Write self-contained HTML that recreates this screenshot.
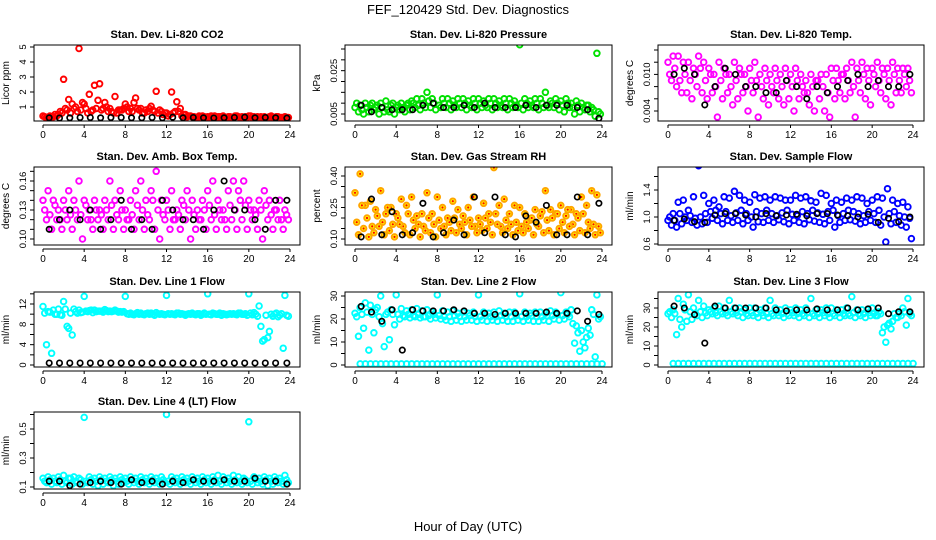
<!DOCTYPE html>
<html><head><meta charset="utf-8">
<style>
html,body{margin:0;padding:0;background:#fff;}
svg{display:block;font-family:"Liberation Sans",Arial,sans-serif;}
</style></head>
<body>
<svg id="chart" width="936" height="540" viewBox="0 0 936 540" xmlns="http://www.w3.org/2000/svg">
<text x="468" y="14" text-anchor="middle" font-size="13">FEF_120429  Std. Dev. Diagnostics</text>
<text x="468" y="531" text-anchor="middle" font-size="13">Hour of Day (UTC)</text>
</svg>
<script>
const hours = [0,0.5,1,1.5,2,2.5,3,3.5,4,4.5,5,5.5,6,6.5,7,7.5,8,8.5,9,9.5,10,10.5,11,11.5,12,12.5,13,13.5,14,14.5,15,15.5,16,16.5,17,17.5,18,18.5,19,19.5,20,20.5,21,21.5,22,22.5,23,23.5];
const blackHours = [0.6,1.6,2.6,3.6,4.6,5.6,6.6,7.6,8.6,9.6,10.6,11.6,12.6,13.6,14.6,15.6,16.6,17.6,18.6,19.6,20.6,21.6,22.6,23.7];
const xTicks = [0,4,8,12,16,20,24];

const co2A = [0.4,0.3,0.35,0.5,2.85,1.5,0.9,4.9,1.2,1.85,2.45,2.55,1.3,0.9,1.7,0.8,1.2,0.9,1.6,0.9,0.8,1.05,2.05,0.7,0.6,2.0,1.35,0.4,0.35,0.35,0.3,0.4,0.35,0.3,0.35,0.4,0.35,0.3,0.35,0.3,0.4,0.35,0.3,0.35,0.35,0.3,0.3,0.35];
const co2B = [0.3,0.35,0.4,0.6,0.8,1.2,0.7,1.3,0.6,0.8,1.45,0.9,0.7,0.6,0.8,0.9,0.7,1.3,0.8,0.6,0.9,0.7,0.8,0.6,0.5,0.7,0.9,0.5,0.4,0.3,0.35,0.3,0.4,0.3,0.35,0.3,0.3,0.4,0.35,0.3,0.3,0.35,0.3,0.3,0.3,0.35,0.3,0.3];
const co2M = [0.35,0.4,0.5,0.7,0.9,0.6,1.0,0.8,0.9,0.7,0.9,0.8,1.0,0.7,0.6,0.8,1.0,0.7,0.9,0.6,0.7,0.8,0.6,0.5,0.4,0.6,0.7,0.5,0.4,0.35,0.4,0.35,0.3,0.4,0.35,0.3,0.35,0.4,0.3,0.35,0.4,0.3,0.35,0.3,0.4,0.35,0.3,0.3];
const co2K = [0.28,0.27,0.28,0.3,0.3,0.28,0.3,0.3,0.28,0.28,0.3,0.28,0.32,0.28,0.3,0.28,0.27,0.28,0.3,0.32,0.28,0.3,0.28,0.26];

const presA = [0.008,0.009,0.010,0.009,0.008,0.010,0.011,0.009,0.008,0.010,0.009,0.011,0.012,0.012,0.015,0.012,0.039,0.012,0.012,0.011,0.012,0.012,0.011,0.012,0.012,0.011,0.012,0.012,0.011,0.012,0.012,0.011,0.037,0.012,0.011,0.012,0.012,0.015,0.011,0.012,0.011,0.012,0.010,0.011,0.010,0.009,0.008,0.033];
const presB = [0.006,0.005,0.006,0.007,0.005,0.006,0.006,0.005,0.007,0.006,0.007,0.008,0.007,0.008,0.008,0.007,0.008,0.008,0.007,0.008,0.008,0.007,0.008,0.007,0.008,0.008,0.007,0.008,0.008,0.007,0.008,0.008,0.007,0.008,0.008,0.007,0.008,0.008,0.008,0.007,0.006,0.008,0.005,0.006,0.007,0.006,0.004,0.005];
const presM = [0.010,0.007,0.008,0.010,0.009,0.008,0.007,0.010,0.009,0.008,0.010,0.010,0.009,0.010,0.011,0.010,0.009,0.010,0.010,0.009,0.010,0.010,0.009,0.010,0.010,0.009,0.010,0.010,0.009,0.010,0.010,0.009,0.010,0.010,0.009,0.010,0.010,0.009,0.010,0.010,0.009,0.010,0.008,0.009,0.008,0.009,0.007,0.006];
const presK = [0.009,0.006,0.008,0.007,0.007,0.007,0.009,0.010,0.008,0.008,0.009,0.008,0.010,0.008,0.008,0.008,0.009,0.008,0.009,0.009,0.009,0.008,0.007,0.003];

const tempA = [0.012,0.013,0.013,0.012,0.012,0.011,0.013,0.012,0.011,0.010,0.012,0.011,0.010,0.012,0.011,0.010,0.011,0.012,0.010,0.011,0.010,0.011,0.010,0.011,0.010,0.011,0.010,0.009,0.010,0.009,0.010,0.010,0.011,0.011,0.010,0.011,0.012,0.011,0.012,0.011,0.011,0.012,0.011,0.011,0.012,0.011,0.011,0.011];
const tempB = [0.009,0.008,0.007,0.007,0.006,0.008,0.007,0.006,0.007,0.003,0.006,0.007,0.005,0.006,0.007,0.004,0.007,0.003,0.006,0.005,0.007,0.006,0.005,0.006,0.004,0.006,0.007,0.005,0.004,0.006,0.004,0.003,0.006,0.007,0.006,0.007,0.003,0.007,0.006,0.005,0.008,0.007,0.006,0.005,0.007,0.007,0.008,0.007];
const tempM = [0.010,0.011,0.009,0.010,0.009,0.010,0.011,0.009,0.010,0.008,0.009,0.010,0.008,0.009,0.010,0.008,0.009,0.009,0.008,0.009,0.008,0.009,0.008,0.009,0.008,0.009,0.008,0.007,0.008,0.009,0.008,0.007,0.009,0.009,0.010,0.009,0.008,0.009,0.010,0.009,0.010,0.009,0.010,0.009,0.010,0.009,0.010,0.009];
const tempK = [0.010,0.011,0.010,0.005,0.008,0.011,0.010,0.008,0.008,0.007,0.007,0.009,0.008,0.006,0.008,0.007,0.008,0.009,0.010,0.008,0.009,0.008,0.008,0.010];

const ambA = [0.14,0.15,0.14,0.13,0.14,0.15,0.14,0.16,0.14,0.13,0.14,0.13,0.14,0.16,0.14,0.15,0.13,0.14,0.15,0.16,0.14,0.15,0.17,0.14,0.14,0.15,0.13,0.14,0.15,0.14,0.13,0.14,0.15,0.16,0.14,0.13,0.15,0.16,0.15,0.16,0.14,0.13,0.14,0.15,0.14,0.13,0.14,0.13];
const ambB = [0.12,0.11,0.12,0.11,0.12,0.11,0.12,0.10,0.12,0.11,0.12,0.11,0.12,0.11,0.12,0.11,0.12,0.11,0.12,0.11,0.12,0.11,0.10,0.12,0.11,0.12,0.11,0.12,0.10,0.11,0.12,0.11,0.12,0.11,0.12,0.11,0.12,0.11,0.12,0.11,0.12,0.11,0.10,0.12,0.11,0.12,0.11,0.12];
const ambM = [0.13,0.125,0.135,0.12,0.13,0.125,0.13,0.125,0.135,0.12,0.13,0.125,0.13,0.135,0.125,0.13,0.12,0.125,0.135,0.13,0.125,0.14,0.13,0.125,0.13,0.12,0.125,0.135,0.13,0.125,0.12,0.13,0.135,0.125,0.13,0.12,0.135,0.13,0.14,0.135,0.13,0.125,0.13,0.135,0.125,0.13,0.12,0.125];
const ambK = [0.11,0.12,0.13,0.12,0.13,0.11,0.12,0.14,0.11,0.12,0.11,0.14,0.13,0.12,0.12,0.11,0.13,0.16,0.13,0.13,0.12,0.11,0.14,0.14];

const rhA = [0.32,0.41,0.26,0.28,0.24,0.33,0.22,0.25,0.22,0.29,0.26,0.30,0.21,0.22,0.32,0.22,0.30,0.25,0.20,0.28,0.24,0.21,0.25,0.30,0.20,0.27,0.22,0.44,0.26,0.29,0.22,0.26,0.25,0.22,0.19,0.24,0.21,0.33,0.24,0.22,0.26,0.21,0.24,0.22,0.30,0.26,0.33,0.31];
const rhB = [0.12,0.15,0.11,0.13,0.16,0.12,0.14,0.11,0.17,0.13,0.12,0.15,0.11,0.14,0.13,0.11,0.15,0.12,0.14,0.13,0.15,0.12,0.16,0.13,0.14,0.15,0.12,0.17,0.13,0.15,0.12,0.14,0.13,0.15,0.12,0.16,0.13,0.14,0.12,0.15,0.13,0.16,0.12,0.14,0.13,0.15,0.12,0.13];
const rhM = [0.18,0.26,0.20,0.16,0.21,0.18,0.25,0.17,0.20,0.16,0.22,0.19,0.17,0.16,0.20,0.17,0.19,0.16,0.18,0.20,0.17,0.18,0.19,0.16,0.17,0.20,0.18,0.22,0.16,0.19,0.17,0.18,0.16,0.18,0.20,0.17,0.23,0.19,0.20,0.22,0.18,0.24,0.17,0.20,0.22,0.18,0.17,0.16];
const rhK = [0.11,0.29,0.12,0.23,0.12,0.13,0.27,0.11,0.13,0.19,0.12,0.30,0.13,0.30,0.12,0.11,0.21,0.18,0.26,0.12,0.12,0.30,0.12,0.27];

const sfA = [0.95,1.05,1.22,1.25,1.1,1.3,1.76,1.32,1.2,1.25,1.15,1.3,1.28,1.38,1.32,1.25,1.22,1.33,1.28,1.3,1.25,1.3,1.28,1.25,1.25,1.32,1.28,1.3,1.24,1.22,1.35,1.32,1.2,1.25,1.22,1.28,1.25,1.3,1.28,1.2,1.25,1.3,1.28,1.42,1.25,1.2,1.22,1.15];
const sfB = [0.88,0.85,0.9,0.95,0.92,0.88,0.9,0.92,0.98,0.95,0.9,0.95,0.92,0.95,0.9,0.95,0.85,0.93,0.92,0.95,0.92,0.96,0.93,0.9,0.95,0.92,0.9,0.96,0.94,0.92,0.9,0.95,0.85,0.92,0.95,0.96,0.94,0.9,0.92,0.95,0.92,0.88,0.63,0.9,0.92,0.88,0.85,0.68];
const sfM = [1.0,0.95,1.05,1.0,1.02,0.98,1.0,1.05,1.08,1.1,1.05,1.08,1.02,1.06,1.1,1.05,1.0,1.08,1.05,1.1,1.05,1.02,1.06,1.1,1.04,1.02,1.08,1.05,1.1,1.06,1.04,1.08,1.1,1.02,1.05,1.1,1.08,1.05,1.02,1.08,1.05,1.1,1.0,1.05,1.08,1.02,1.0,0.98];
const sfK = [0.95,0.97,0.93,0.92,1.03,1.05,1.05,1.03,1.0,1.05,1.02,1.03,1.04,1.02,1.05,1.05,1.03,1.02,1.0,1.04,0.92,0.98,0.93,1.0];

const l1A = [11.5,10.5,10.8,11,12.5,7.2,11,10.8,13.5,10.7,10.8,10.6,10.9,10.6,10.8,10.5,13.5,10.2,10.1,10.2,10.1,10.2,10.3,10.1,13.7,10.1,10.2,10.1,10.0,10.2,10.1,10.0,14,10.2,10.0,10.1,10.0,10.1,10.2,10.0,14,10.3,11.6,5.0,6.6,10.0,9.8,13.7];
const l1B = [4.0,2.3,10.0,9.8,7.6,5.9,10.2,10.4,10.5,10.3,10.6,10.4,10.5,10.6,10.4,10.5,10.0,9.9,10.0,9.9,10.0,9.8,10.0,9.9,10.0,9.9,10.0,9.8,10.0,9.9,9.8,10.0,9.9,10.0,9.8,9.9,10.0,9.9,10.0,9.8,9.9,9.6,4.7,5.4,9.6,9.5,3.3,9.6];
const l1M = [10.2,10.4,10.0,9.9,11,10.2,10.5,10.3,10.6,10.8,10.5,10.6,10.7,10.5,10.6,10.4,10.1,10.0,10.3,10.0,10.2,10.0,10.1,10.0,10.1,10.0,10.2,10.0,10.1,10.0,10.1,10.2,10.0,10.1,10.2,10.0,10.1,10.0,10.2,10.1,10.2,10.0,7.6,9.8,10.0,10.2,10.1,9.8];
const l1K = [0.4,0.4,0.4,0.4,0.4,0.4,0.4,0.4,0.4,0.4,0.4,0.4,0.4,0.4,0.4,0.4,0.4,0.4,0.4,0.4,0.4,0.4,0.4,0.4];

const l2A = [22.5,25,27,26,24,30,22,24,30.5,24.5,23.5,24,24.5,23.5,24,23,30.5,23.5,23,23.5,22.5,23,22.5,23,30.5,23,22.5,23,23.5,22.5,23,23,31,23,22.5,23,23,22.5,23.5,23,31.5,23,24,17,15,12,24,30.5];
const l2B = [12.5,16,6.5,14,21,8,11,17.5,20,21,20.5,21,20.5,21,20,20.5,20,19.5,19,19.5,19,19.5,19.5,19,19.5,19,19.5,19,19.5,19,19,19.5,19,19.5,19,19,19.5,19,20,19.5,20,21,9.5,6,7.5,13,3.5,21];
const l2M = [21,22,23,22,25,18,23,22,22,21.5,22,21.5,22,21,21.5,22,21.5,21,21,21.5,21,21,21.5,21,21,21.5,21,21,21.5,21,21,21.5,21,21,21.5,21,21,21.5,21.5,22,21.5,22,18,14,10,16,22,20];
const l2C = [0.5,0.5,0.5,0.5,0.5,0.5,0.5,0.5,0.5,0.5,0.5,0.5,0.5,0.5,0.5,0.5,0.5,0.5,0.5,0.5,0.5,0.5,0.5,0.5,0.5,0.5,0.5,0.5,0.5,0.5,0.5,0.5,0.5,0.5,0.5,0.5,0.5,0.5,0.5,0.5,0.5,0.5,0.5,0.5,0.5,0.5,0.5,0.5];
const l2K = [25.5,23,19,24,6.5,24,23.5,23.5,23.5,24,23.5,22.5,22.5,22,22.5,22.5,22.5,22.5,23,22.5,22.5,23.5,19,22];

const l3A = [27,29,35,32,37,30,34,31,29,30,31,30,34,30,30,29,30,30,29,30,34,30,29,30,29,30,29,30,35,29,29,30,30,29,29,30,36,29,29,29,30,26,17,21,23,25,30,35];
const l3B = [25,16,20,23,24,26,25,26,27,26,27,26,27,26,25,26,26,25,26,25,26,26,25,26,26,25,26,25,26,25,26,25,26,25,26,26,25,26,25,26,26,27,12,19,25,26,21,26];
const l3M = [28,27,24,29,28,27,28,27.5,28,27.5,28,27.5,28,27.5,28,27,27.5,27,27.5,27,27,27.5,27,27,27.5,27,27,27.5,27,27,27.5,27,27,27.5,27,27,27.5,27,27,27.5,27,28,20,22,27,27,28,27];
const l3C = [0.8,0.8,0.8,0.8,0.8,0.8,0.8,0.8,0.8,0.8,0.8,0.8,0.8,0.8,0.8,0.8,0.8,0.8,0.8,0.8,0.8,0.8,0.8,0.8,0.8,0.8,0.8,0.8,0.8,0.8,0.8,0.8,0.8,0.8,0.8,0.8,0.8,0.8,0.8,0.8,0.8,0.8,0.8,0.8,0.8,0.8,0.8,0.8];
const l3K = [31,30,26.5,11.5,31,30,30,30,30,30,29,28.5,29,29,29.5,29,29,30,29,29.5,30,27,28,28];

const l4A = [0.16,0.17,0.16,0.17,0.18,0.16,0.17,0.16,0.58,0.17,0.16,0.17,0.16,0.17,0.16,0.17,0.16,0.17,0.16,0.17,0.16,0.17,0.16,0.17,0.60,0.17,0.16,0.17,0.16,0.17,0.16,0.17,0.16,0.17,0.18,0.17,0.16,0.18,0.17,0.16,0.55,0.17,0.16,0.17,0.16,0.17,0.16,0.18];
const l4B = [0.13,0.12,0.13,0.12,0.13,0.12,0.13,0.12,0.13,0.12,0.11,0.12,0.13,0.11,0.12,0.13,0.12,0.13,0.12,0.13,0.12,0.13,0.12,0.13,0.12,0.13,0.12,0.13,0.12,0.13,0.12,0.13,0.12,0.13,0.12,0.13,0.12,0.13,0.12,0.13,0.12,0.13,0.12,0.11,0.12,0.13,0.12,0.13];
const l4M = [0.14,0.15,0.14,0.15,0.14,0.16,0.14,0.15,0.14,0.15,0.14,0.15,0.14,0.15,0.14,0.15,0.14,0.15,0.14,0.15,0.14,0.15,0.14,0.15,0.14,0.15,0.14,0.15,0.14,0.15,0.14,0.15,0.14,0.15,0.14,0.15,0.14,0.15,0.14,0.15,0.14,0.15,0.14,0.15,0.14,0.15,0.14,0.15];
const l4K = [0.14,0.14,0.11,0.12,0.13,0.14,0.13,0.12,0.15,0.13,0.14,0.12,0.14,0.13,0.15,0.14,0.14,0.15,0.14,0.14,0.16,0.14,0.14,0.12];

const NS = "http://www.w3.org/2000/svg";
const svg = document.getElementById('chart');
function mk(tag, attrs, parent){
  const e = document.createElementNS(NS, tag);
  for (const k in attrs) e.setAttribute(k, attrs[k]);
  (parent||svg).appendChild(e);
  return e;
}
const cols = [{bl:34,br:300,x0:43,x24:290},{bl:345,br:612,x0:355,x24:602},{bl:658,br:924,x0:668,x24:913}];
const rows = [{bt:45,bb:121},{bt:167,bb:245},{bt:292,bb:367},{bt:412,bb:489}];

const panels = [
 {key:'co2',title:'Stan. Dev. Li-820 CO2',ylab:'Licor ppm',c:0,r:0,v1:1,p1:107,v2:5,p2:47,ticks:[1,2,3,4,5],labels:['1','2','3','4','5'],color:'#ff0000',series:[co2A,co2M,co2B],black:co2K},
 {key:'pressure',title:'Stan. Dev. Li-820 Pressure',ylab:'kPa',c:1,r:0,v1:0.005,p1:114,v2:0.035,p2:49,ticks:[0.005,0.010,0.015,0.020,0.025,0.030,0.035],labels:['0.005','','','','0.025','',''],color:'#00e000',series:[presA,presM,presB],black:presK},
 {key:'temp',title:'Stan. Dev. Li-820 Temp.',ylab:'degrees C',c:2,r:0,v1:0.004,p1:111,v2:0.014,p2:50,ticks:[0.004,0.006,0.008,0.010,0.012,0.014],labels:['0.004','','','0.010','',''],color:'#ff00ff',series:[tempA,tempM,tempB],black:tempK},
 {key:'ambbox',title:'Stan. Dev. Amb. Box Temp.',ylab:'degrees C',c:0,r:1,v1:0.10,p1:239,v2:0.16,p2:181,ticks:[0.10,0.11,0.12,0.13,0.14,0.15,0.16,0.17],labels:['0.10','','','0.13','','','0.16',''],color:'#ff00ff',series:[ambA,ambM,ambB],black:ambK},
 {key:'rh',title:'Stan. Dev. Gas Stream RH',ylab:'percent',c:1,r:1,v1:0.10,p1:239,v2:0.40,p2:176,ticks:[0.10,0.15,0.20,0.25,0.30,0.35,0.40],labels:['0.10','','','0.25','','','0.40'],color:'#ffa500',inner:'#ff0000',series:[rhA,rhM,rhB],black:rhK},
 {key:'sampleflow',title:'Stan. Dev. Sample Flow',ylab:'ml/min',c:2,r:1,v1:0.6,p1:244,v2:1.4,p2:190,ticks:[0.6,0.8,1.0,1.2,1.4,1.6],labels:['0.6','','1.0','','1.4',''],color:'#0000ff',series:[sfA,sfM,sfB],black:sfK},
 {key:'line1',title:'Stan. Dev. Line 1 Flow',ylab:'ml/min',c:0,r:2,v1:0,p1:365,v2:12,p2:304,ticks:[0,2,4,6,8,10,12,14],labels:['0','','4','','8','','12',''],color:'#00ffff',series:[l1A,l1M,l1B],black:l1K},
 {key:'line2',title:'Stan. Dev. Line 2 Flow',ylab:'ml/min',c:1,r:2,v1:0,p1:365,v2:30,p2:296,ticks:[0,5,10,15,20,25,30],labels:['0','','10','','20','','30'],color:'#00ffff',series:[l2A,l2M,l2B,l2C],black:l2K},
 {key:'line3',title:'Stan. Dev. Line 3 Flow',ylab:'ml/min',c:2,r:2,v1:0,p1:365,v2:30,p2:308,ticks:[0,5,10,15,20,25,30,35],labels:['0','','10','','20','','30',''],color:'#00ffff',series:[l3A,l3M,l3B,l3C],black:l3K},
 {key:'line4',title:'Stan. Dev. Line 4 (LT) Flow',ylab:'ml/min',c:0,r:3,v1:0.1,p1:487,v2:0.5,p2:429,ticks:[0.1,0.2,0.3,0.4,0.5,0.6],labels:['0.1','','0.3','','0.5',''],color:'#00ffff',series:[l4A,l4M,l4B],black:l4K}
];

panels.forEach(p=>{
  const col = cols[p.c], row = rows[p.r];
  const g = mk('g',{});
  
  
  const xs = h => col.x0 + (col.x24 - col.x0) * h / 24;
  const ys = v => p.p1 + (p.p2 - p.p1) * (v - p.v1) / (p.v2 - p.v1);
  const cx = (col.bl + col.br) / 2;
  const t = mk('text',{x:cx,y:row.bt-7,'text-anchor':'middle','font-size':'11','font-weight':'bold'},g);
  t.textContent = p.title;
  
  
  const yl = mk('text',{x:0,y:0,'text-anchor':'middle','font-size':'10',transform:'translate('+(col.bl-25)+','+((row.bt+row.bb)/2)+') rotate(-90)'},g);
  yl.textContent = p.ylab;
  
  
  const cid = 'clip-' + p.key;
  const cp = mk('clipPath',{id:cid},g);
  mk('rect',{x:col.bl,y:row.bt,width:col.br-col.bl,height:row.bb-row.bt},cp);
  const pg = mk('g',{'clip-path':'url(#'+cid+')'},g);
  
  
  p.series.forEach((arr, si)=>{
    arr.forEach((v,i)=>{
      const h = hours[i] + si * 0.17;
      const c = mk('circle',{cx:xs(h).toFixed(1),cy:ys(v).toFixed(1),r:2.8,fill:p.inner?'#ffff00':'none',stroke:p.color,'stroke-width':1.9},pg);
      
      
      if (p.inner){ mk('circle',{cx:xs(h).toFixed(1),cy:ys(v).toFixed(1),r:1.1,fill:p.inner},pg); }
    });
  });
  p.black.forEach((v,i)=>{
    const c = mk('circle',{cx:xs(blackHours[i]).toFixed(1),cy:ys(v).toFixed(1),r:2.7,fill:'none',stroke:'#000','stroke-width':1.7},pg);
    
    
  });
  mk('rect',{x:col.bl,y:row.bt,width:col.br-col.bl,height:row.bb-row.bt,fill:'none',stroke:'#000','stroke-width':1},g);
  p.ticks.forEach((v,i)=>{
    const y = ys(v);
    if (y < row.bt-1 || y > row.bb+1) return;
    mk('line',{x1:col.bl-4,x2:col.bl,y1:y,y2:y,stroke:'#000'},g);
    if (p.labels[i]) {
      const tl = mk('text',{x:0,y:0,'text-anchor':'middle','font-size':'9.5',transform:'translate('+(col.bl-8)+','+y+') rotate(-90)'},g);
      tl.textContent = p.labels[i];
      
      
    }
  });
  const ay = row.bb + 4;
  mk('line',{x1:xs(0),x2:xs(24),y1:ay,y2:ay,stroke:'#000'},g);
  xTicks.forEach(h=>{
    mk('line',{x1:xs(h),x2:xs(h),y1:ay,y2:ay+3,stroke:'#000'},g);
    const tl = mk('text',{x:xs(h),y:ay+13,'text-anchor':'middle','font-size':'10'},g);
    tl.textContent = String(h);
    
    
  });
});
</script>
</body></html>
